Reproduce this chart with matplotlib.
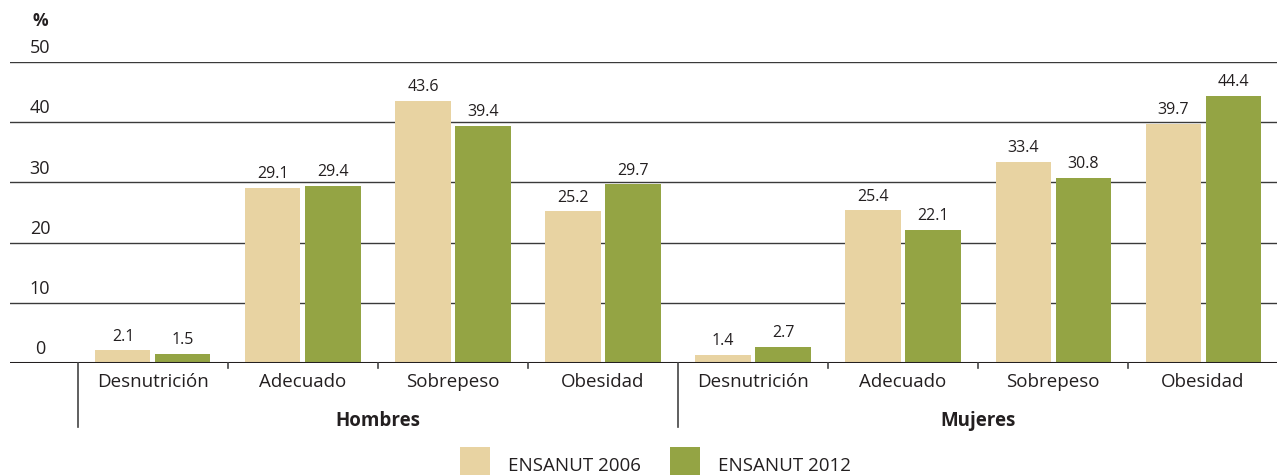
import matplotlib
matplotlib.use("Agg")
import matplotlib.pyplot as plt
import matplotlib.transforms as mtransforms
from matplotlib.patches import Rectangle

plt.rcParams['font.family'] = ['Open Sans', 'DejaVu Sans']

categories = ["Desnutrición", "Adecuado", "Sobrepeso", "Obesidad",
              "Desnutrición", "Adecuado", "Sobrepeso", "Obesidad"]
groups = ["Hombres", "Mujeres"]
series_names = ["ENSANUT 2006", "ENSANUT 2012"]
values_2006 = [2.1, 29.1, 43.6, 25.2, 1.4, 25.4, 33.4, 39.7]
values_2012 = [1.5, 29.4, 39.4, 29.7, 2.7, 22.1, 30.8, 44.4]
y_ticks = [0, 10, 20, 30, 40, 50]

color_2006 = "#E8D3A2"
color_2012 = "#94A444"
text_color = "#231F20"

W, H = 1277, 475
fig = plt.figure(figsize=(W / 100, H / 100), dpi=100)
ax = fig.add_axes([10 / W, 112 / H, 1267 / W, 301 / H])
ax.set_xlim(-0.953, 7.493)
ax.set_ylim(0, 50)
ax.axis("off")

bar_w = 0.367
offset = 0.2
xs = list(range(len(categories)))
ax.bar([x - offset for x in xs], values_2006, width=bar_w, color=color_2006, zorder=2)
ax.bar([x + offset for x in xs], values_2012, width=bar_w, color=color_2012, zorder=2)

for x, v in zip(xs, values_2006):
    ax.annotate(f"{v:.1f}", (x - offset, v), xytext=(0, 4), textcoords="offset points",
                ha="center", va="bottom", fontsize=11.5, color=text_color)
for x, v in zip(xs, values_2012):
    ax.annotate(f"{v:.1f}", (x + offset, v), xytext=(0, 4), textcoords="offset points",
                ha="center", va="bottom", fontsize=11.5, color=text_color)

# Gridlines and y labels sitting above each line
for t in y_ticks[1:]:
    ax.axhline(t, color="#3a3a3a", lw=1.0, zorder=1)
ax.axhline(0, color=text_color, lw=2.2, zorder=3)

trans_lbl = mtransforms.blended_transform_factory(ax.transAxes, ax.transData)
for t in y_ticks:
    ax.text(30 / 1267, t + 2.3, str(t), transform=trans_lbl, ha="center", va="center",
            fontsize=13, color=text_color)
ax.text(30 / 1267, 50 + 6.8, "%", transform=trans_lbl, ha="center", va="center",
        fontsize=12.5, fontweight="bold", color=text_color, clip_on=False)

# Category labels and separators below the baseline
for x, c in zip(xs, categories):
    ax.annotate(c, (x, 0), xytext=(0, -7.5), textcoords="offset points",
                ha="center", va="top", fontsize=13.5, color=text_color, annotation_clip=False)

for b in [x + 0.5 for x in xs[:-1]]:
    if b == 3.5:
        continue
    ax.plot([b, b], [0, -0.9], color="#444444", lw=1.2, clip_on=False, zorder=3)
for b in [-0.5, 3.5]:
    ax.plot([b, b], [0, -10.6], color="#444444", lw=1.2, clip_on=False, zorder=3)

for g, cx in zip(groups, [1.5, 5.5]):
    ax.text(cx, -9.7, g, ha="center", va="center", fontsize=13.5, fontweight="bold",
            color=text_color, clip_on=False)

# Legend at the bottom
for name, col, px in zip(series_names, [color_2006, color_2012], [460, 670]):
    fig.patches.append(Rectangle((px / W, -2 / H), 30 / W, 30 / H, transform=fig.transFigure,
                                 facecolor=col, edgecolor="none"))
    fig.text((px + 48) / W, 9 / H, name, ha="left", va="center", fontsize=13.5,
             color=text_color)

fig.savefig("out.png", dpi=100)
